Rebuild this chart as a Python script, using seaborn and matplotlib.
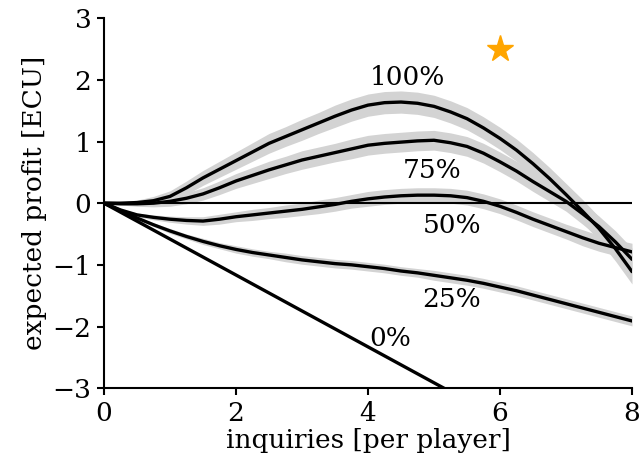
import numpy as np
import pandas as pd
import matplotlib
matplotlib.use("Agg")
import matplotlib.pyplot as plt
import seaborn as sns

inquiries = [0, 0.25, 0.5, 0.75, 1.0, 1.25, 1.5, 1.75, 2.0, 2.25, 2.5, 2.75, 3.0, 3.25, 3.5, 3.75,
             4.0, 4.25, 4.5, 4.75, 5.0, 5.25, 5.5, 5.75, 6.0, 6.25, 6.5, 6.75, 7.0, 7.25, 7.5, 7.75, 8.0]
profit_100 = [0, 0.00, 0.01, 0.04, 0.11, 0.25, 0.41, 0.55, 0.69, 0.83, 0.97, 1.08, 1.19, 1.30, 1.41, 1.51,
              1.59, 1.63, 1.64, 1.62, 1.57, 1.48, 1.37, 1.22, 1.05, 0.86, 0.64, 0.40, 0.14, -0.13, -0.41, -0.74, -1.11]
profit_75 = [0, -0.01, -0.01, 0.00, 0.03, 0.08, 0.15, 0.25, 0.36, 0.45, 0.54, 0.62, 0.70, 0.76, 0.82, 0.88,
             0.94, 0.97, 0.99, 1.01, 1.02, 0.98, 0.92, 0.81, 0.67, 0.52, 0.35, 0.19, 0.03, -0.17, -0.38, -0.63, -0.91]
profit_50 = [0, -0.11, -0.19, -0.23, -0.26, -0.28, -0.29, -0.26, -0.22, -0.19, -0.16, -0.13, -0.10, -0.06, -0.02, 0.03,
             0.07, 0.10, 0.12, 0.13, 0.13, 0.12, 0.09, 0.03, -0.05, -0.15, -0.26, -0.36, -0.46, -0.56, -0.65, -0.72, -0.79]
profit_25 = [0, -0.12, -0.24, -0.35, -0.45, -0.54, -0.62, -0.69, -0.75, -0.80, -0.84, -0.88, -0.92, -0.95, -0.98, -1.00,
             -1.03, -1.06, -1.10, -1.13, -1.17, -1.21, -1.25, -1.30, -1.36, -1.42, -1.49, -1.56, -1.63, -1.70, -1.77, -1.84, -1.91]
band_100 = [0, 0.02, 0.04, 0.07, 0.09, 0.11, 0.12, 0.13, 0.14, 0.15, 0.16, 0.16, 0.17, 0.17, 0.18, 0.18,
            0.18, 0.18, 0.18, 0.18, 0.18, 0.18, 0.18, 0.18, 0.18, 0.18, 0.18, 0.18, 0.18, 0.19, 0.19, 0.20, 0.20]
band_75 = [0, 0.02, 0.04, 0.06, 0.08, 0.09, 0.10, 0.11, 0.12, 0.13, 0.14, 0.14, 0.15, 0.15, 0.15, 0.16,
           0.16, 0.16, 0.16, 0.16, 0.16, 0.16, 0.16, 0.16, 0.16, 0.16, 0.16, 0.16, 0.16, 0.17, 0.17, 0.18, 0.18]
band_50 = [0, 0.02, 0.03, 0.04, 0.05, 0.06, 0.07, 0.08, 0.08, 0.09, 0.09, 0.10, 0.10, 0.11, 0.11, 0.11,
           0.12, 0.12, 0.12, 0.12, 0.12, 0.12, 0.12, 0.12, 0.12, 0.12, 0.12, 0.12, 0.12, 0.13, 0.13, 0.13, 0.14]
band_25 = [0, 0.01, 0.02, 0.03, 0.04, 0.04, 0.05, 0.05, 0.06, 0.06, 0.06, 0.07, 0.07, 0.07, 0.07, 0.07,
           0.07, 0.07, 0.07, 0.07, 0.08, 0.08, 0.08, 0.08, 0.08, 0.08, 0.08, 0.08, 0.08, 0.08, 0.08, 0.08, 0.08]
zero_x = [0, 8]
zero_y = [0, -4.66]
labels = ["100%", "75%", "50%", "25%", "0%"]
label_x = [4.59, 4.97, 5.27, 5.27, 4.33]
label_y = [2.04, 0.53, -0.37, -1.57, -2.19]
star_x = [6]
star_y = [2.5]

sns.set_style("ticks")
plt.rcParams['font.family'] = ['DejaVu Serif']
plt.rcParams['font.size'] = 19
for k in ["text.color", "axes.labelcolor", "xtick.color", "ytick.color", "axes.edgecolor"]:
    plt.rcParams[k] = "black"

fig = plt.figure(figsize=(6.4, 4.66), dpi=100)
ax = fig.add_axes([0.1625, 0.167, 0.825, 0.794])

series = [(profit_100, band_100), (profit_75, band_75), (profit_50, band_50), (profit_25, band_25)]
for vals, band in series:
    lo = np.array(vals) - np.array(band)
    hi = np.array(vals) + np.array(band)
    ax.fill_between(inquiries, lo, hi, color="lightgray", lw=0, zorder=1)
for vals, band in series:
    sns.lineplot(x=inquiries, y=vals, ax=ax, color="black", lw=2.4, zorder=3)
sns.lineplot(x=zero_x, y=zero_y, ax=ax, color="black", lw=2.4, zorder=3)
ax.axhline(0, color="black", lw=1.5, zorder=2)
ax.plot(star_x, star_y, marker="*", color="orange", ms=20, ls="none", zorder=4)

for t, x, y in zip(labels, label_x, label_y):
    ax.text(x, y, t, ha="center", va="center", fontsize=19)

ax.set_xlim(0, 8)
ax.set_ylim(-3, 3)
ax.set_xticks([0, 2, 4, 6, 8])
ax.set_yticks([-3, -2, -1, 0, 1, 2, 3])
ax.set_xlabel("inquiries [per player]", fontsize=19)
ax.set_ylabel("expected profit [ECU]", fontsize=19)
ax.tick_params(labelsize=19, width=1.5, length=5, pad=4)
for s in ["left", "bottom"]:
    ax.spines[s].set_linewidth(1.5)
sns.despine(ax=ax)
ax.xaxis.labelpad = 2
ax.yaxis.labelpad = 4
fig.savefig("out.png", dpi=100)
